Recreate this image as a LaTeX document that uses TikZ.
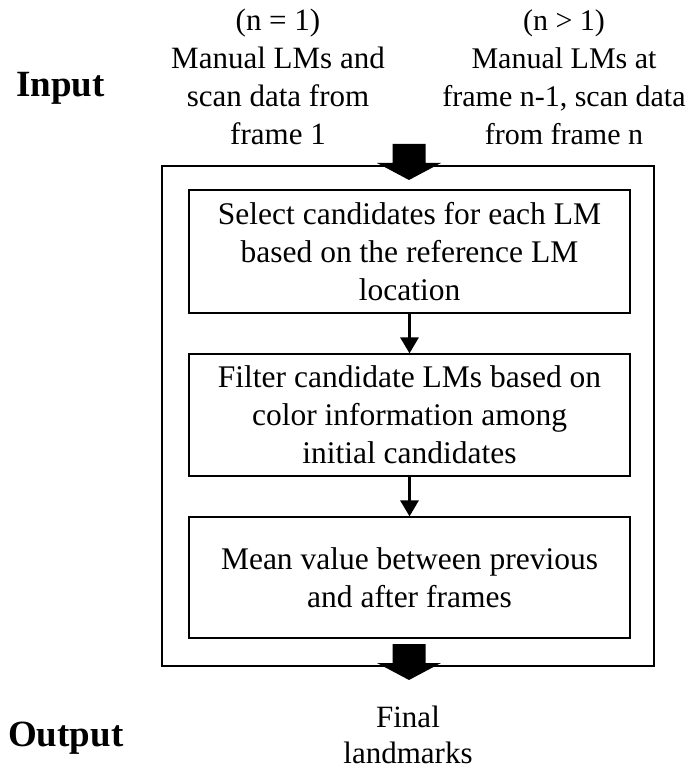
\documentclass[tikz,border=0pt]{standalone}
\usepackage{fontspec}
\setmainfont{Liberation Serif}
\usetikzlibrary{arrows.meta}
\begin{document}
\begin{tikzpicture}[x=1pt,y=-1pt,
  procbox/.style={draw, line width=1.2pt, minimum width=441pt, minimum height=122pt,
    inner sep=0pt, align=center, font=\fontsize{31.5}{38}\selectfont},
  frame/.style={draw, line width=1.6pt, minimum width=492pt, minimum height=500pt, inner sep=0pt},
  lbl/.style={align=center, inner sep=0pt, font=\fontsize{31}{38}\selectfont},
  lblr/.style={align=center, inner sep=0pt, font=\fontsize{30}{38}\selectfont},
  side/.style={inner sep=0pt, font=\fontsize{37}{40}\selectfont\bfseries},
  flow/.style={line width=3pt, -{Triangle[width=18pt,length=16pt]}},
  fatarrow/.style={fill=black, draw=none}
]
\useasboundingbox (0,0) rectangle (692,770);

\node[frame] (outer) at (408,416) {};
\node[procbox, minimum height=123pt] (box1) at (409.5,251.5)
  {Select candidates for each LM\\based on the reference LM\\location};
\node[procbox] (box2) at (409.5,415)
  {Filter candidate LMs based on\\color information among\\initial candidates};
\node[procbox, minimum height=121pt] (box3) at (409.5,577.5)
  {Mean value between previous\\and after frames};

\draw[flow] (box1) -- (box2);
\draw[flow] (box2) -- (box3);

\node[lbl] (in1) at (278,77) {(n = 1)\\Manual LMs and\\scan data from\\frame 1};
\node[lblr] (in2) at (564,77) {(n > 1)\\Manual LMs at\\frame n-1, scan data\\from frame n};
\node[lbl, font=\fontsize{31}{36}\selectfont] (final) at (408,735) {Final\\landmarks};
\node[side, anchor=base west] (input) at (16,97) {Input};
\node[side, anchor=base west] (output) at (8,746) {Output};

\coordinate (intop) at (409,144);
\coordinate (outtop) at (409,644);
\fill[fatarrow] (intop) ++(-16.5,0) -- ++(33,0) -- ++(0,19) -- ++(15.5,0)
  -- ++(-32,17) -- ++(-32,-17) -- ++(15.5,0) -- cycle;
\fill[fatarrow] (outtop) ++(-16.5,0) -- ++(33,0) -- ++(0,19) -- ++(15.5,0)
  -- ++(-32,17) -- ++(-32,-17) -- ++(15.5,0) -- cycle;
\end{tikzpicture}
\end{document}
